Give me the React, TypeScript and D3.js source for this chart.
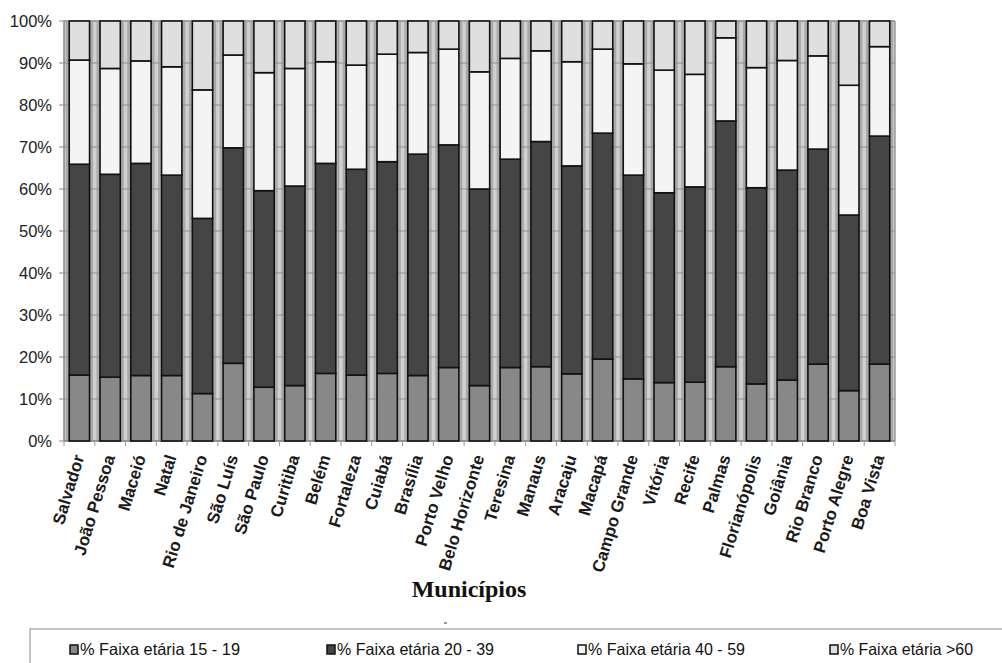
import React from "react";
import * as d3 from "d3";

// Municipalities (state capitals) along the x axis
const cities = [
  "Salvador", "João Pessoa", "Maceió", "Natal", "Rio de Janeiro", "São Luís",
  "São Paulo", "Curitiba", "Belém", "Fortaleza", "Cuiabá", "Brasília",
  "Porto Velho", "Belo Horizonte", "Teresina", "Manaus", "Aracaju", "Macapá",
  "Campo Grande", "Vitória", "Recife", "Palmas", "Florianópolis", "Goiânia",
  "Rio Branco", "Porto Alegre", "Boa Vista",
];

// Share (%) of each age group per municipality
const age15to19 = [
  15.7, 15.2, 15.6, 15.6, 11.3, 18.5, 12.8, 13.2, 16.1, 15.7, 16.1, 15.6, 17.5, 13.2,
  17.5, 17.7, 16.0, 19.5, 14.8, 13.9, 14.0, 17.7, 13.6, 14.5, 18.3, 12.0, 18.3,
];
const age20to39 = [
  50.2, 48.3, 50.5, 47.7, 41.7, 51.3, 46.8, 47.5, 50.0, 49.0, 50.4, 52.7, 53.0, 46.8,
  49.6, 53.6, 49.5, 53.8, 48.5, 45.2, 46.5, 58.5, 46.7, 50.0, 51.2, 41.8, 54.3,
];
const age40to59 = [
  24.8, 25.2, 24.4, 25.8, 30.6, 22.1, 28.1, 28.0, 24.2, 24.8, 25.6, 24.2, 22.8, 27.9,
  24.0, 21.6, 24.8, 20.0, 26.5, 29.2, 26.8, 19.8, 28.6, 26.1, 22.2, 30.9, 21.3,
];
const age60plus = [
  9.3, 11.3, 9.5, 10.9, 16.4, 8.1, 12.3, 11.3, 9.7, 10.5, 7.9, 7.5, 6.7, 12.1,
  8.9, 7.1, 9.7, 6.7, 10.2, 11.7, 12.7, 4.0, 11.1, 9.4, 8.3, 15.3, 6.1,
];

const seriesNames = [
  "% Faixa etária 15 - 19",
  "% Faixa etária 20 - 39",
  "% Faixa etária 40 - 59",
  "% Faixa etária >60",
];
const yTicks = [0, 10, 20, 30, 40, 50, 60, 70, 80, 90, 100];

const seriesColors = ["#888888", "#454545", "#f4f4f4", "#dfdfdf"];
const seriesKeys = ["a", "b", "c", "d"];

export default function App() {
  const width = 1002;
  const height = 663;
  const plot = { left: 64, right: 895, top: 21, bottom: 441 };

  const rows = cities.map((city, i) => ({
    city,
    a: age15to19[i],
    b: age20to39[i],
    c: age40to59[i],
    d: age60plus[i],
  }));

  const x = d3
    .scaleBand<string>()
    .domain(cities)
    .range([plot.left, plot.right])
    .paddingInner(0.34)
    .paddingOuter(0.17);

  const y = d3.scaleLinear().domain([0, 100]).range([plot.bottom, plot.top]);

  const stack = d3.stack<any>().keys(seriesKeys);
  const layers = stack(rows);

  const bw = x.bandwidth();
  const step = x.step();
  const font = "'Liberation Sans', Arial, sans-serif";

  // legend entry positions and condensed text widths
  const legendX = [70, 327, 578, 830];
  const legendW = [160, 157, 157, 133];

  return (
    <svg width={width} height={height} style={{ position: "absolute", left: 0, top: 0, background: "#fff" }}>
      <rect x={0} y={0} width={width} height={height} fill="#ffffff" />

      {/* plot area */}
      <rect x={plot.left} y={plot.top} width={plot.right - plot.left} height={plot.bottom - plot.top} fill="#d0d0d0" />

      {/* grey halo around each column */}
      {cities.map((c) => (
        <rect key={"h" + c} x={(x(c) as number) - 3.5} y={plot.top} width={bw + 7} height={plot.bottom - plot.top} fill="#a9a9a9" />
      ))}

      {/* gridlines */}
      {yTicks.map((t) => (
        <line key={"g" + t} x1={plot.left} x2={plot.right} y1={y(t)} y2={y(t)} stroke="#8f8f8f" strokeWidth={1} />
      ))}

      {/* plot frame */}
      <line x1={plot.left} x2={plot.right} y1={plot.top} y2={plot.top} stroke="#9a9a9a" strokeWidth={1.5} />
      <line x1={plot.right} x2={plot.right} y1={plot.top} y2={plot.bottom} stroke="#9a9a9a" strokeWidth={1.5} />
      <line x1={plot.left} x2={plot.left} y1={plot.top} y2={plot.bottom} stroke="#888" strokeWidth={1.5} />
      <line x1={plot.left} x2={plot.right} y1={plot.bottom} y2={plot.bottom} stroke="#888" strokeWidth={1.5} />

      {/* stacked columns */}
      {layers.map((layer, li) => (
        <g key={"l" + li}>
          {layer.map((seg: any, i: number) => (
            <rect
              key={i}
              x={x(cities[i]) as number}
              y={y(seg[1])}
              width={bw}
              height={y(seg[0]) - y(seg[1])}
              fill={seriesColors[li]}
              stroke="#111"
              strokeWidth={1.6}
            />
          ))}
        </g>
      ))}

      {/* y axis ticks and labels */}
      {yTicks.map((t) => (
        <g key={"y" + t}>
          <line x1={plot.left - 5} x2={plot.left} y1={y(t)} y2={y(t)} stroke="#888" />
          <text x={52} y={y(t)} dy="0.36em" textAnchor="end" fontFamily={font} fontSize={16.5} fill="#222">
            {t}%
          </text>
        </g>
      ))}

      {/* x axis ticks between categories */}
      {cities.map((c, i) => {
        const bx = (x(c) as number) - (step - bw) / 2;
        return <line key={"t" + i} x1={bx} x2={bx} y1={plot.bottom} y2={plot.bottom + 5} stroke="#999" />;
      })}
      <line x1={plot.right} x2={plot.right} y1={plot.bottom} y2={plot.bottom + 5} stroke="#999" />

      {/* category labels */}
      {cities.map((c) => {
        const cx = (x(c) as number) + bw / 2 + 5;
        const cy = plot.bottom + 16;
        return (
          <text
            key={"x" + c}
            transform={`translate(${cx},${cy}) rotate(-73)`}
            textAnchor="end"
            fontFamily={font}
            fontWeight="bold"
            fontSize={17}
            fill="#1a1a1a"
          >
            {c}
          </text>
        );
      })}

      {/* axis title */}
      <text x={469} y={597} textAnchor="middle" fontFamily="'Liberation Serif', 'Times New Roman', serif" fontWeight="bold" fontSize={24} fill="#111">
        Municípios
      </text>
      <line x1={444} x2={447} y1={623} y2={623} stroke="#777" strokeWidth={1.5} />

      {/* legend */}
      <rect x={30} y={629} width={990} height={50} fill="#fff" stroke="#9a9a9a" strokeWidth={1.2} />
      {seriesNames.map((name, i) => (
        <g key={"lg" + i}>
          <rect x={legendX[i]} y={645} width={8} height={9} fill={seriesColors[i]} stroke="#111" strokeWidth={1.5} />
          <text x={legendX[i] + 10} y={655} fontFamily={font} fontSize={16.5} fill="#111" textLength={legendW[i]} lengthAdjust="spacingAndGlyphs">
            {name}
          </text>
        </g>
      ))}
    </svg>
  );
}
